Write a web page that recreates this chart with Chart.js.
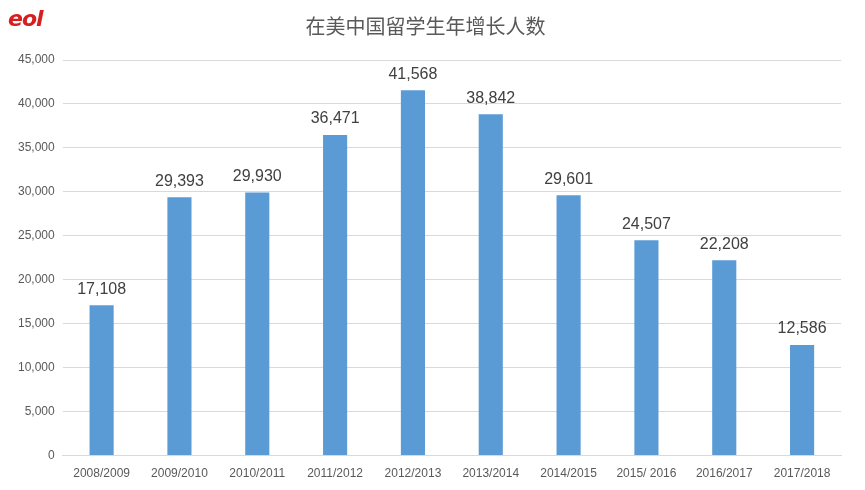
<!DOCTYPE html>
<html><head><meta charset="utf-8">
<script src="https://cdn.jsdelivr.net/npm/chart.js@4"></script>
<style>
html,body{margin:0;padding:0;background:#fff;}
#wrap{position:relative;width:865px;height:490px;}
#logo{position:absolute;left:8px;top:6px;font:italic bold 22px "DejaVu Sans";color:#d81e1e;letter-spacing:-1px;}
</style></head><body>
<div id="wrap"><div id="logo">eol</div><canvas id="c" width="865" height="490"></canvas></div>
<script>
const categories=["2008/2009","2009/2010","2010/2011","2011/2012","2012/2013","2013/2014","2014/2015","2015/ 2016","2016/2017","2017/2018"];
const values=[17108,29393,29930,36471,41568,38842,29601,24507,22208,12586];
const titleText="在美中国留学生年增长人数";
const labelPlugin={id:"lbl",afterDatasetsDraw(ch){const ctx=ch.ctx;const m=ch.getDatasetMeta(0);
ctx.save();ctx.font='16px "Liberation Sans"';ctx.fillStyle="#404040";ctx.textAlign="center";ctx.textBaseline="bottom";
m.data.forEach((b,i)=>ctx.fillText(values[i].toLocaleString("en-US"),b.x,b.y-8));ctx.restore();}};
new Chart(document.getElementById("c"),{type:"bar",
data:{labels:categories,datasets:[{data:values,backgroundColor:"#5b9bd5",categoryPercentage:1,barPercentage:0.31}]},
options:{responsive:false,animation:false,
layout:{padding:{left:10,right:24,top:6,bottom:6}},
plugins:{legend:{display:false},tooltip:{enabled:false},
title:{display:true,text:titleText,color:"#595959",font:{size:20,family:'"Noto Sans CJK SC"',weight:"normal"},padding:{top:8,bottom:22}}},
scales:{x:{grid:{display:false},border:{color:"#d9d9d9"},ticks:{color:"#595959",font:{size:12,family:'"Liberation Sans"'},maxRotation:0}},
y:{min:0,max:45000,ticks:{stepSize:5000,color:"#595959",padding:8,font:{size:12,family:'"Liberation Sans"'},callback:v=>v.toLocaleString("en-US")},
grid:{color:"#d9d9d9",drawTicks:false},border:{display:false}}}},
plugins:[labelPlugin]});
</script></body></html>
